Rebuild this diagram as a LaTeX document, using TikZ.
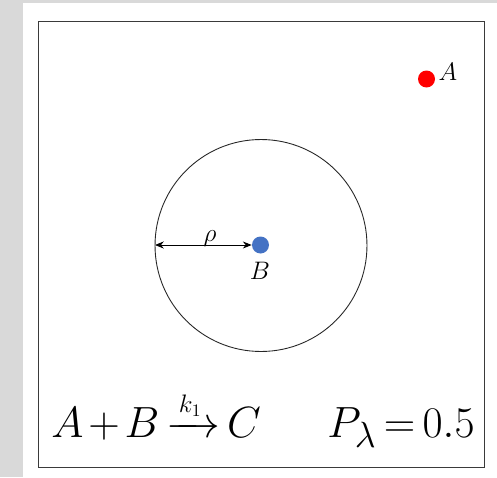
\documentclass[tikz,border=0pt]{standalone}
\usepackage{amsmath,amssymb}
\usetikzlibrary{arrows.meta,positioning}
\definecolor{bggray}{HTML}{D9D9D9}
\definecolor{dotblue}{HTML}{4472C4}
\definecolor{framegray}{HTML}{3A3A3A}
\tikzset{
  particle/.style={circle,inner sep=0pt,minimum size=0.34cm},
  rim/.style={line width=.5pt,draw=black!85},
  bigmath/.style={font=\Huge,inner sep=0pt},
}
\newcommand{\ratelbl}{\makebox[0.5cm]{\fontsize{14}{16}\selectfont$k_1$}}
\begin{document}
\begin{tikzpicture}[x=0.02cm,y=-0.02cm,every node/.style={font=\Large}]
\fill[bggray] (0,0) rectangle (497,477);
\fill[white] (23,3) rectangle (497,477);
\draw[line width=.5pt,framegray] (38.5,21.5) rectangle (484,467);
\coordinate (c0) at (261,245.5);
\draw[rim] (c0) circle [radius=2.12cm];
\node[particle,fill=dotblue] (B) at (260.5,245) {};
\node[particle,fill=red] (A) at (426.5,79) {};
\coordinate (edge) at (155,245);
\draw[{Stealth[length=5pt,width=4pt]}-{Stealth[length=5pt,width=4pt]},line width=.5pt] (edge) -- (B.west);
\node (rho) at (210,239) {$\rho$};
\node (Blbl) at (260,271) {$B$};
\node (Albl) at (448,72) {$A$};
\node[bigmath,anchor=base west] (rxn) at (51,437) {$\medmuskip=2mu\thickmuskip=3mu A+B\xrightarrow{\ratelbl}C$};
\node[bigmath,anchor=base east] (prob) at (475,437) {$\thickmuskip=3mu P_\lambda=0.5$};
\end{tikzpicture}
\end{document}
